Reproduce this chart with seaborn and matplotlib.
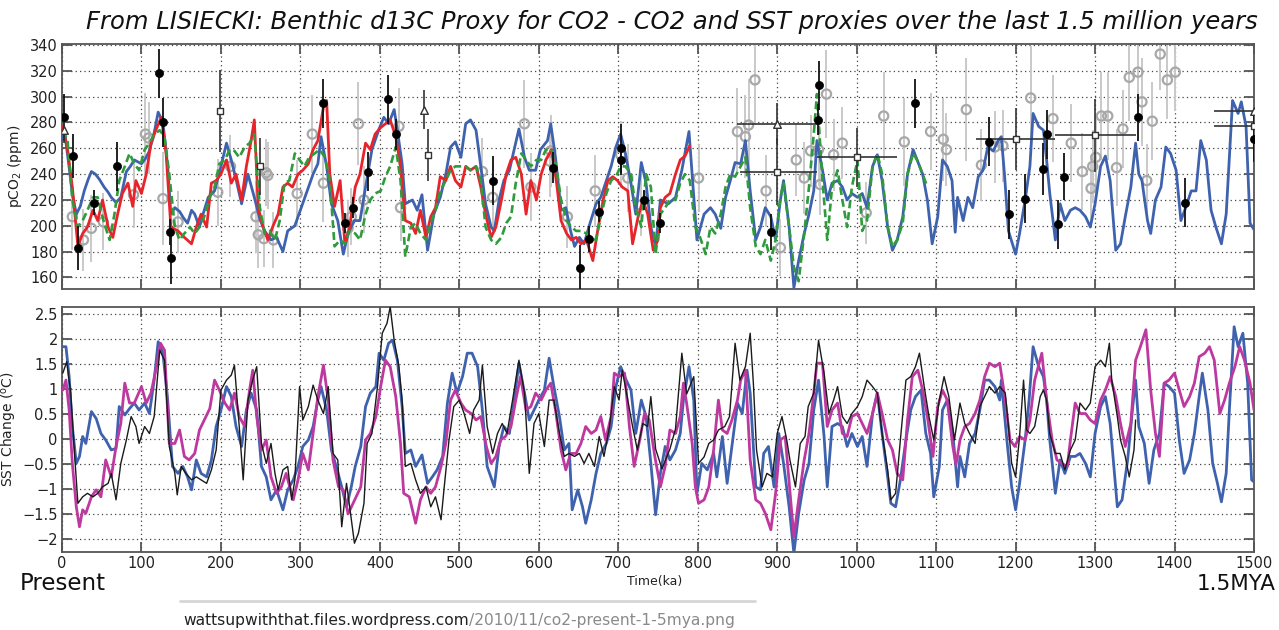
import numpy as np
import matplotlib
matplotlib.use("Agg")
import matplotlib.pyplot as plt
import seaborn as sns
from matplotlib.lines import Line2D

# ---------------- DATA ----------------
# Top panel: pCO2 (ppm)
BLUE_CO2_KA = [1,3,8,13,18,23,28,33,37,42,47,53,58,62,68,74,81,86,91,100,105,110,116,121,127,133,137,142,148,153,158,163,167,173,178,184,192,200,207,213,219,226,234,242,249,255,263,270,278,284,293,301,310,316,322,326,333,339,347,354,360,368,375,382,390,399,405,411,418,422,428,432,441,447,453,460,468,476,483,489,495,502,508,514,521,527,533,540,544,550,556,563,569,575,582,588,596,602,611,615,621,628,634,640,645,651,657,663,672,678,685,691,697,703,709,716,722,729,735,741,747,753,763,772,780,789,795,799,808,816,822,829,835,841,847,854,860,866,873,879,885,892,898,904,908,915,921,927,934,940,946,950,957,963,969,976,982,988,994,1001,1007,1013,1020,1026,1032,1039,1045,1051,1058,1064,1071,1076,1083,1089,1095,1102,1108,1114,1120,1124,1127,1134,1140,1146,1153,1159,1165,1172,1178,1182,1186,1191,1197,1200,1205,1212,1218,1222,1229,1235,1239,1243,1250,1256,1262,1269,1275,1281,1288,1294,1300,1307,1313,1319,1326,1332,1338,1345,1351,1355,1359,1366,1370,1376,1383,1389,1395,1402,1408,1414,1421,1427,1433,1440,1446,1452,1459,1465,1473,1480,1484,1490,1495,1500]
BLUE_CO2_PPM = [268,274,250,225,209,215,227,236,242,240,236,230,226,222,218,222,242,246,251,248,252,258,272,288,280,246,209,214,211,206,202,212,209,199,210,222,227,246,264,251,236,217,240,222,205,196,189,191,180,196,200,214,230,240,248,269,246,217,204,178,194,204,204,230,259,275,284,279,290,274,248,217,220,212,224,181,209,222,240,261,265,253,279,282,274,246,217,199,196,220,235,243,259,275,253,243,243,259,266,279,253,212,214,196,184,191,186,199,217,222,235,246,261,271,256,233,209,249,233,199,184,220,217,222,243,273,222,189,209,214,209,198,222,235,249,248,266,227,189,199,214,207,189,220,235,199,152,173,194,209,227,266,243,220,233,235,230,220,225,222,225,214,246,255,235,199,181,189,207,240,259,251,240,220,186,207,251,246,235,195,222,204,222,214,238,243,261,258,266,269,240,196,184,178,194,220,246,287,277,274,251,225,189,217,204,212,214,212,207,199,217,246,254,235,181,186,207,230,264,240,235,204,194,220,230,261,256,243,204,214,227,227,266,251,212,199,186,209,297,287,296,277,202,197]

RED_CO2_KA = [1,7,13,20,26,32,39,45,51,58,64,70,76,83,89,93,100,106,112,118,125,131,137,146,154,163,169,175,182,188,194,200,207,213,219,226,232,238,242,247,253,259,265,272,278,284,290,297,303,310,316,322,329,333,337,343,350,356,362,369,375,382,388,394,401,407,413,420,426,432,439,445,451,458,464,470,476,483,489,495,502,508,514,521,527,533,540,546,553,559,565,571,578,584,590,597,603,609,616,622,628,635,641,647,653,660,668,674,681,687,693,699,705,712,718,725,731,737,744,750,753,759,765,772,778,784,790]
RED_CO2_PPM = [277,259,230,184,194,199,212,204,220,199,191,209,225,233,215,235,225,240,264,274,284,256,199,196,191,186,199,209,199,233,235,240,251,233,240,220,246,266,282,214,199,189,199,209,230,233,230,240,243,248,259,266,292,297,240,215,235,186,199,230,240,264,259,271,276,279,282,269,246,204,202,194,212,191,207,214,238,235,246,235,230,246,243,246,230,209,191,199,220,240,251,253,240,209,235,220,240,251,259,235,204,194,189,191,186,189,173,196,220,235,238,235,230,227,186,207,220,209,181,189,214,222,225,240,251,254,262]

GREEN_CO2_KA = [1,7,13,20,26,32,39,45,53,60,66,72,79,85,91,97,104,110,116,123,129,135,142,148,154,161,167,173,179,186,192,198,205,211,217,223,230,236,242,249,255,261,268,274,280,286,293,299,305,311,318,324,331,337,343,350,356,362,369,375,382,388,394,401,407,413,420,426,432,439,445,451,458,464,470,476,483,489,495,502,508,514,521,527,533,540,546,553,559,565,571,578,584,590,597,603,609,616,622,628,635,641,647,653,660,666,672,678,685,691,697,703,709,716,722,729,735,741,747,753,759,765,772,778,784,790,797,803,810,816,822,829,835,841,847,854,860,866,873,879,885,892,898,904,908,915,921,927,934,940,946,950,957,963,969,976,982,988,994,1001,1007,1013,1020,1026,1032,1039,1045,1051,1058,1064,1071,1076,1083,1089]
GREEN_CO2_PPM = [274,266,220,199,204,212,222,222,202,189,209,235,246,256,248,243,259,264,271,274,269,240,199,189,194,199,194,199,207,222,230,248,251,259,258,253,261,264,271,214,194,196,189,204,233,235,256,251,246,253,256,259,253,235,184,189,186,196,194,189,209,220,225,227,238,246,261,235,176,199,202,194,189,202,212,227,235,243,246,246,246,243,246,235,199,189,186,191,202,207,233,256,251,246,251,251,259,259,246,220,204,199,196,196,194,191,189,207,225,235,238,246,246,240,214,199,240,230,178,209,214,220,220,233,240,235,199,191,178,199,194,209,230,240,238,246,253,214,184,178,189,173,189,222,233,199,168,157,194,230,271,302,235,189,230,243,220,199,230,251,196,204,246,256,240,199,184,189,202,240,256,251,240,230]

BLACK_PT_KA = [3,14,20,40,69,122,127,136,137,329,356,366,385,410,420,542,618,652,663,676,703,704,733,752,892,951,953,1073,1167,1192,1212,1234,1239,1253,1261,1354,1413,1500]
BLACK_PT_PPM = [284,254,183,218,246,318,280,195,175,295,202,214,242,298,271,235,245,167,190,211,251,260,220,202,195,282,309,295,265,209,221,244,271,201,238,284,218,267]
BLACK_PT_ERR = [18,17,17,10,19,19,19,10,20,19,8,8,15,19,12,19,12,18,10,8,12,19,8,8,14,12,19,19,19,19,19,20,19,19,18,18,19,18]

GRAY_PT_KA = [13,27,37,52,90,105,109,127,146,196,212,244,247,254,257,259,266,296,315,329,360,364,373,380,424,426,529,542,582,590,614,615,636,671,703,712,728,801,850,860,864,872,886,904,924,934,942,952,954,962,971,982,1012,1034,1060,1093,1109,1113,1138,1157,1174,1184,1219,1247,1270,1284,1295,1297,1301,1308,1316,1327,1335,1343,1354,1359,1365,1372,1382,1391,1401]
GRAY_PT_PPM = [207,189,198,203,224,271,268,221,203,226,246,207,193,190,241,239,189,225,271,233,198,207,279,220,277,214,242,222,279,230,250,258,207,227,255,237,216,237,273,269,278,313,227,183,251,237,258,259,232,302,255,264,210,285,265,273,267,259,290,247,261,262,299,283,264,242,229,246,253,285,285,245,275,315,319,296,235,281,333,313,319]
GRAY_PT_ERR = [26,24,26,22,26,32,28,36,24,26,24,28,26,22,26,26,22,26,30,30,22,22,32,26,30,26,26,26,34,26,28,28,24,28,26,26,24,26,34,32,36,34,28,22,28,28,28,28,24,34,28,28,24,34,34,30,32,28,40,28,28,28,40,34,30,30,26,28,34,34,34,30,30,34,34,34,28,30,28,30,30]

SQ_KA = [199,249,461,900,1000,1200,1300,1500]
SQ_PPM = [289,246,255,242,253,267,270,277]
SQ_XLO = [0,0,0,47,50,50,50,50]
SQ_XHI = [0,0,0,50,51,50,51,0]
SQ_YERR = [32,22,20,26,23,24,28,0]

TRI_KA = [3,456,900,1500]
TRI_PPM = [274,290,279,289]
TRI_XLO = [0,0,50,50]
TRI_XHI = [0,0,50,0]
TRI_YERR = [10,15,16,0]

# Bottom panel: SST change (deg C)
BLUE_SST_KA = [1,5,9,13,18,22,26,30,37,43,49,55,62,68,72,79,85,91,97,104,110,116,121,127,133,139,146,152,158,163,169,175,182,188,194,200,207,213,219,226,232,238,245,251,257,263,270,278,284,291,297,303,310,316,322,326,333,339,345,352,358,364,369,376,382,388,395,399,405,411,416,422,428,432,439,445,453,460,466,472,479,485,491,497,504,510,516,523,529,535,544,550,556,563,569,575,582,588,594,600,607,613,619,626,632,638,642,649,655,659,666,672,678,685,691,697,703,710,716,722,729,735,741,747,753,759,765,772,778,782,789,795,799,805,812,820,824,831,837,843,850,856,862,866,873,879,883,889,896,902,908,915,921,927,934,940,946,952,959,963,969,976,982,988,994,1001,1007,1013,1020,1026,1032,1039,1043,1049,1055,1062,1068,1074,1081,1087,1093,1097,1104,1108,1114,1121,1127,1130,1136,1142,1149,1155,1161,1167,1174,1180,1182,1189,1195,1200,1205,1212,1217,1222,1229,1235,1239,1243,1250,1256,1262,1269,1275,1281,1288,1294,1300,1307,1313,1319,1328,1334,1341,1347,1351,1355,1362,1368,1374,1381,1387,1393,1400,1406,1412,1419,1425,1431,1435,1442,1448,1454,1459,1465,1469,1475,1480,1486,1492,1497,1500]
BLUE_SST_C = [1.85,1.85,1.25,0.25,-0.49,-0.35,0.05,-0.09,0.55,0.41,0.11,-0.02,-0.22,-0.19,0.65,0.48,0.61,0.72,0.58,0.72,0.51,1.18,1.95,1.72,0.78,-0.55,-0.69,-0.55,-0.76,-1.02,-0.42,-0.69,-0.76,-0.42,0.25,0.58,1.05,0.85,0.25,-0.15,0.58,0.92,0.58,-0.55,-0.76,-1.22,-1.02,-1.42,-1.02,-0.82,-0.55,-0.15,-0.02,0.25,0.78,1.05,0.58,-0.22,-0.55,-0.96,-1.36,-0.96,-0.55,-0.15,0.65,0.92,1.05,1.72,1.58,1.92,1.98,1.58,0.65,-0.29,-0.22,-0.55,-0.32,-0.89,-0.76,-0.62,-0.35,0.72,1.32,0.92,1.25,1.72,1.72,1.45,0.58,-0.55,-0.96,-0.15,0.25,0.11,0.78,1.52,0.92,0.38,0.58,0.78,0.98,1.62,1.05,0.45,-0.22,-0.09,-1.42,-1.02,-1.36,-1.69,-1.22,-0.69,-0.29,-0.09,0.25,1.05,1.45,1.18,0.98,0.11,0.78,0.45,-0.49,-1.52,-0.69,-0.15,-0.42,-0.22,0.11,0.78,1.45,0.78,-1.09,-0.49,-0.62,-0.29,-0.76,0.05,-0.89,-0.15,0.72,0.51,1.38,0.92,-0.96,-1.02,-0.29,-0.15,-0.96,0.11,-0.49,-1.36,-2.29,-1.49,-0.82,-0.49,0.58,1.18,0.05,-0.96,0.25,0.31,0.25,-0.15,0.11,-0.15,0.05,-0.55,0.51,0.92,0.11,-0.76,-1.29,-1.36,-0.82,-0.02,0.58,0.85,0.98,0.11,-0.29,-1.16,-0.55,0.58,0.78,0.11,-0.96,-0.35,-0.76,-0.09,0.11,0.58,1.18,1.18,1.05,0.78,1.18,-0.02,-0.96,-1.42,-0.89,-0.02,0.78,1.85,1.45,1.25,0.78,-0.02,-1.09,-0.42,-0.69,-0.35,-0.35,-0.29,-0.49,-0.76,0.11,0.65,0.85,0.31,-1.36,-1.22,-0.42,0.58,1.18,0.25,-0.09,-0.89,-0.22,0.11,1.12,1.05,0.92,-0.02,-0.69,-0.42,0.11,0.85,1.32,0.58,-0.49,-0.89,-1.26,-0.69,0.58,2.25,1.85,2.12,1.12,-0.82,-0.86]

MAG_SST_KA = [1,5,9,13,18,22,26,30,37,43,49,55,62,68,74,79,85,91,100,106,112,118,124,129,135,142,148,154,160,167,173,179,186,192,198,205,211,217,223,230,236,240,245,251,257,263,270,276,282,291,297,303,310,316,322,329,335,341,348,354,360,366,376,382,388,395,401,407,413,420,426,430,437,445,451,458,464,470,477,483,489,495,502,508,515,521,527,534,540,546,552,558,565,571,577,584,590,596,603,609,615,621,628,634,640,647,653,659,666,672,678,684,691,695,701,708,714,720,727,733,739,746,753,759,765,772,778,782,786,793,797,801,808,814,820,826,831,837,843,850,854,860,866,873,879,885,892,898,904,910,917,921,927,934,940,946,950,957,963,969,976,982,988,994,1001,1007,1013,1020,1026,1032,1039,1045,1051,1058,1064,1070,1077,1083,1089,1096,1102,1108,1114,1121,1125,1130,1136,1142,1149,1155,1161,1167,1174,1180,1187,1193,1199,1205,1212,1218,1224,1233,1239,1246,1252,1258,1265,1269,1275,1281,1288,1294,1300,1307,1313,1319,1326,1332,1338,1345,1351,1357,1364,1370,1376,1381,1387,1393,1400,1406,1412,1419,1425,1431,1438,1444,1450,1457,1463,1469,1476,1482,1488,1495,1500]
MAG_SST_C = [0.98,1.18,0.58,-0.49,-1.36,-1.76,-1.42,-1.49,-1.16,-1.02,-1.16,-0.42,-0.76,-0.15,0.31,1.12,0.72,0.72,1.05,0.72,0.92,1.38,1.92,1.78,-0.09,-0.09,0.18,-0.35,-0.42,-0.29,0.18,0.38,0.61,1.18,0.98,0.72,0.58,0.92,0.45,0.25,0.98,1.38,0.45,-0.22,-0.02,-0.76,-1.09,-0.96,-0.69,-1.22,-0.82,-0.29,-0.62,0.11,0.85,1.48,0.78,-0.42,-0.96,-1.02,-1.5,-1.3,-0.96,-0.02,0.11,0.45,1.05,1.58,1.45,0.85,-0.09,-1.09,-1.16,-1.69,-1.22,-0.96,-1.09,-0.96,-0.55,-0.09,0.78,0.98,0.72,0.58,0.51,0.38,0.45,-0.15,-0.49,-0.35,-0.02,0.05,0.25,0.78,1.25,0.58,0.65,0.92,0.78,0.98,1.12,0.58,-0.22,-0.62,-0.29,-0.29,-0.09,0.25,0.11,0.18,0.45,-0.02,0.45,1.32,1.25,1.32,0.25,-0.55,-0.02,0.51,0.38,-0.35,-0.96,-0.55,0.18,0.11,0.45,1.12,0.72,-0.09,-0.96,-1.29,-1.22,-0.96,-0.22,0.78,0.18,0.11,0.38,0.78,1.18,1.38,-0.42,-1.22,-1.29,-1.49,-1.82,-1.09,-0.02,0.05,-1.22,-1.96,-1.22,-0.42,0.11,0.92,1.52,1.52,0.25,0.58,0.72,0.11,0.05,0.45,0.51,0.31,0.11,0.51,0.92,0.51,-0.02,-0.22,-0.69,-0.82,0.38,1.25,1.38,0.98,0.45,-0.35,0.65,0.98,0.78,-0.15,-0.52,-0.02,0.25,0.31,0.51,0.78,1.25,1.52,1.45,1.52,0.78,-0.02,-0.15,0.05,-0.02,0.38,1.18,1.72,0.78,-0.02,-0.42,-0.49,-0.55,-0.02,0.72,0.51,0.51,0.38,0.31,0.78,0.98,1.25,0.85,0.31,-0.15,0.31,1.58,1.85,2.19,0.98,0.11,-0.35,1.12,1.18,1.32,0.98,0.65,0.85,1.12,1.65,1.72,1.85,1.58,0.51,0.78,1.12,1.45,1.85,1.58,1.12,0.58]

BLK_SST_KA = [1,6,11,16,20,26,32,39,45,51,58,62,68,74,81,87,93,97,104,110,116,123,129,135,142,145,150,156,163,169,175,182,188,194,200,207,213,217,224,228,234,240,245,251,257,263,268,272,278,284,289,293,299,303,310,316,322,329,335,341,347,352,358,362,368,373,380,384,390,397,403,409,413,418,424,428,432,439,445,451,458,464,470,477,481,487,493,500,506,513,518,525,529,535,542,548,554,560,567,575,582,588,594,600,607,613,619,626,632,638,645,651,657,663,670,676,682,689,695,701,705,712,718,724,731,737,741,747,755,765,772,780,786,795,801,808,814,820,826,834,840,847,853,860,866,870,874,881,887,894,900,906,912,916,923,929,935,939,946,952,959,965,971,976,982,988,994,1001,1007,1013,1020,1026,1032,1039,1043,1049,1055,1062,1068,1074,1079,1085,1091,1097,1104,1110,1116,1123,1130,1136,1142,1149,1155,1161,1167,1174,1180,1187,1191,1195,1200,1205,1210,1214,1218,1224,1231,1235,1239,1243,1250,1256,1262,1269,1275,1281,1288,1294,1300,1307,1313,1318,1321,1328,1332,1338,1343,1349,1351]
BLK_SST_C = [1.32,1.55,0.92,-0.35,-1.29,-1.16,-1.09,-1.16,-1.09,-0.96,-0.89,-0.69,-1.22,-0.49,-0.02,0.45,0.25,-0.09,0.25,0.11,0.45,1.78,1.58,-0.15,-0.69,-1.12,-0.55,-0.69,-0.82,-0.76,-0.82,-0.89,-0.62,-0.22,0.98,1.18,1.28,1.48,0.05,-0.82,0.78,1.18,1.45,-0.09,-0.49,-0.09,-0.69,-1.02,-0.62,-0.55,-1.22,-0.82,1.05,0.38,0.65,1.08,0.78,0.51,1.05,-0.29,-0.42,-1.76,-0.89,-1.36,-2.09,-1.89,-1.29,-0.09,0.11,1.05,2.12,2.32,2.65,1.98,1.45,0.78,-0.55,-0.49,-0.82,-1.09,-0.96,-1.36,-1.16,-1.62,-0.96,-0.02,0.65,0.78,0.51,0.11,0.58,0.78,1.48,0.25,-0.29,0.11,0.31,0.11,0.78,1.58,0.92,-0.69,0.31,0.51,-0.15,0.78,0.78,0.11,-0.35,-0.29,-0.35,-0.29,-0.49,-0.29,-0.55,0.05,-0.35,0.25,1.05,0.78,1.38,0.78,0.25,-0.22,0.31,0.25,0.85,-0.2,-0.6,-0.2,0.2,1.72,0.9,1.25,-0.49,-0.36,-0.09,-0.02,0.18,0.25,0.45,1.92,1.18,1.45,2.12,1.12,-0.22,-0.96,-0.69,-0.76,0.11,0.45,-0.02,-0.42,-0.96,-0.09,0.05,0.65,0.92,1.98,1.32,0.51,0.78,1.05,0.45,0.31,0.51,0.65,0.85,1.18,1.05,0.92,0.11,-0.62,-1.22,-1.09,-0.02,1.18,1.25,1.45,1.72,1.05,0.45,-0.02,0.78,1.25,0.85,-0.02,0.72,0.31,0.11,-0.09,0.65,0.85,1.05,0.92,1.05,0.92,0.25,-0.49,-0.76,0.05,1.18,0.18,0.11,0.25,0.85,0.98,0.78,0.11,-0.29,-0.29,-0.62,-0.22,-0.02,0.72,0.58,0.72,1.45,1.58,1.45,1.92,1.18,0.45,-0.02,-0.35,-0.76,-0.22,0.38]

X_TICKS = [0,100,200,300,400,500,600,700,800,900,1000,1100,1200,1300,1400,1500]
CO2_TICKS = [160,180,200,220,240,260,280,300,320,340]
SST_TICKS = [-2,-1.5,-1,-0.5,0,0.5,1,1.5,2,2.5]
SST_TICK_LABELS = ["\u22122","\u22121.5","\u22121","\u22120.5","0","0.5","1","1.5","2","2.5"]

TITLE = "From LISIECKI: Benthic d13C Proxy for CO2 - CO2 and SST proxies over the last 1.5 million years"

# ---------------- STYLE ----------------
sns.set_theme(style="white")
plt.rcParams['font.family'] = ['DejaVu Sans']

C_BLUE = "#3f62ae"
C_RED = "#e8242b"
C_GREEN = "#2f9b3c"
C_MAG = "#bd399f"
C_FRAME = "#555555"

fig = plt.figure(figsize=(12.79, 6.30), dpi=100)
ax1 = fig.add_axes([62/1279, 1-289/630, (1254-62)/1279, 245/630])
ax2 = fig.add_axes([62/1279, 1-551.7/630, (1254-62)/1279, 244.4/630])

def style_axes(ax):
    ax.set_xlim(0, 1500)
    ax.set_xticks(X_TICKS)
    for s in ax.spines.values():
        s.set_color(C_FRAME)
        s.set_linewidth(1.3)
    ax.tick_params(direction="in", length=7, width=1.3, color=C_FRAME,
                   top=True, right=True, bottom=True, left=True,
                   labelsize=10.5, pad=3, labelcolor="#222222")
    ax.grid(True, which="major", color="#444444", linestyle=(0, (1, 2.5)), linewidth=0.9)
    ax.set_axisbelow(True)
    ax.set_facecolor("white")

# ---------------- TOP PANEL ----------------
ax = ax1
style_axes(ax)
ax.set_ylim(151, 340.8)
ax.set_yticks(CO2_TICKS)
ax.set_xticklabels([])

# gray proxy points
ax.errorbar(GRAY_PT_KA, GRAY_PT_PPM, yerr=GRAY_PT_ERR, fmt="none", ecolor="#c9c9c9",
            elinewidth=1.4, capsize=0, zorder=1)
sns.scatterplot(x=GRAY_PT_KA, y=GRAY_PT_PPM, ax=ax, marker="o", s=44, facecolor="none",
                edgecolor="#a8a8a8", linewidth=1.6, zorder=2, legend=False)

sns.lineplot(x=BLUE_CO2_KA, y=BLUE_CO2_PPM, ax=ax, color=C_BLUE, linewidth=2.0,
             estimator=None, sort=False, zorder=3, legend=False)
sns.lineplot(x=RED_CO2_KA, y=RED_CO2_PPM, ax=ax, color=C_RED, linewidth=2.0,
             estimator=None, sort=False, zorder=4, legend=False)
sns.lineplot(x=GREEN_CO2_KA, y=GREEN_CO2_PPM, ax=ax, color=C_GREEN, linewidth=1.9,
             linestyle=(0, (3, 1.5)), estimator=None, sort=False, zorder=5, legend=False)

# black proxy points
ax.errorbar(BLACK_PT_KA, BLACK_PT_PPM, yerr=BLACK_PT_ERR, fmt="none", ecolor="#111111",
            elinewidth=1.3, capsize=0, zorder=6)
sns.scatterplot(x=BLACK_PT_KA, y=BLACK_PT_PPM, ax=ax, marker="o", s=34, color="black",
                edgecolor="black", linewidth=0.5, zorder=7, legend=False)

# squares and triangles with time-bin bars
ax.errorbar(SQ_KA, SQ_PPM, xerr=[SQ_XLO, SQ_XHI], yerr=SQ_YERR, fmt="none",
            ecolor="#333333", elinewidth=1.2, capsize=0, zorder=6)
sns.scatterplot(x=SQ_KA, y=SQ_PPM, ax=ax, marker="s", s=22, facecolor="white",
                edgecolor="#333333", linewidth=1.0, zorder=7, legend=False)
ax.errorbar(TRI_KA, TRI_PPM, xerr=[TRI_XLO, TRI_XHI], yerr=TRI_YERR, fmt="none",
            ecolor="#333333", elinewidth=1.2, capsize=0, zorder=6)
sns.scatterplot(x=TRI_KA, y=TRI_PPM, ax=ax, marker="^", s=30, facecolor="white",
                edgecolor="#333333", linewidth=1.0, zorder=7, legend=False)

ax.set_ylabel("pCO$_2$ (ppm)", fontsize=10, color="#222222", labelpad=4)
ax.set_xlabel("")

# ---------------- BOTTOM PANEL ----------------
ax = ax2
style_axes(ax)
ax.set_ylim(-2.26, 2.64)
ax.set_yticks(SST_TICKS)
ax.set_yticklabels(SST_TICK_LABELS)

sns.lineplot(x=BLUE_SST_KA, y=BLUE_SST_C, ax=ax, color=C_BLUE, linewidth=2.0,
             estimator=None, sort=False, zorder=3, legend=False)
sns.lineplot(x=MAG_SST_KA, y=MAG_SST_C, ax=ax, color=C_MAG, linewidth=2.0,
             estimator=None, sort=False, zorder=4, legend=False)
sns.lineplot(x=BLK_SST_KA, y=BLK_SST_C, ax=ax, color="#1a1a1a", linewidth=1.0,
             estimator=None, sort=False, zorder=5, legend=False)

ax.set_ylabel("SST Change ($^{\\mathrm{o}}$C)", fontsize=10, color="#222222", labelpad=2)
ax.set_xlabel("")

# ---------------- TEXT ----------------
fig.text(672/1279, 1-22/630, TITLE, ha="center", va="center", fontsize=17.5,
         style="italic", color="#111111")
fig.text(655/1279, 1-581/630, "Time(ka)", ha="center", va="center", fontsize=9,
         color="#222222")
fig.text(20/1279, 1-584/630, "Present", ha="left", va="center", fontsize=16.5,
         color="#111111")
fig.text(1276/1279, 1-584/630, "1.5MYA", ha="right", va="center", fontsize=15.5,
         color="#111111")

# source line
fig.add_artist(Line2D([180/1279, 755/1279], [1-601/630, 1-601/630],
                      transform=fig.transFigure, color="#d6d6d6", linewidth=2))
t1 = fig.text(183/1279, 1-620/630, "wattsupwiththat.files.wordpress.com", ha="left",
              va="center", fontsize=11.2, color="#222222")
fig.canvas.draw()
bb = t1.get_window_extent(renderer=fig.canvas.get_renderer())
fig.text(bb.x1/fig.bbox.width, 1-620/630, "/2010/11/co2-present-1-5mya.png", ha="left",
         va="center", fontsize=11.2, color="#8a8a8a")

fig.savefig("out.png", dpi=100)
